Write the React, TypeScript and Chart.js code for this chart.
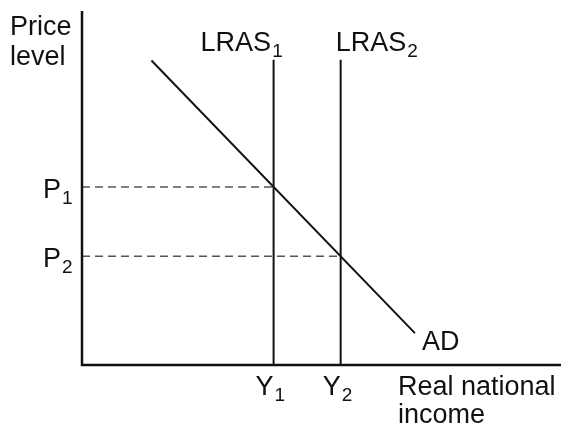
import React, { useEffect, useRef } from "react";
import { Chart, registerables } from "chart.js";

Chart.register(...registerables);

// Data (arbitrary units: real national income on x, price level on y)
const lrasNames = ["LRAS", "LRAS"];
const lrasSubs = ["1", "2"];
const lrasX = [4.0, 5.4];
const lrasTop = 8.62;
const adX = [1.45, 6.95];
const adY = [8.6, 0.9];
const priceNames = ["P", "P"];
const priceSubs = ["1", "2"];
const priceLevels = [5.03, 3.07];
const incomeNames = ["Y", "Y"];
const incomeSubs = ["1", "2"];
const incomeLevels = [4.0, 5.4];
const xTitle = ["Real national", "income"];
const yTitle = ["Price", "level"];
const adLabel = "AD";

const FONT = "Liberation Sans, Arial, sans-serif";
const MAIN = 27;
const SUB = 19;

function drawSub(ctx: CanvasRenderingContext2D, main: string, sub: string, x: number, y: number) {
  ctx.font = `${MAIN}px ${FONT}`;
  ctx.textAlign = "left";
  ctx.textBaseline = "alphabetic";
  ctx.fillText(main, x, y);
  const w = ctx.measureText(main).width;
  ctx.font = `${SUB}px ${FONT}`;
  ctx.fillText(sub, x + w + 1, y + 6);
  ctx.font = `${MAIN}px ${FONT}`;
  return w + 1 + ctx.measureText(sub).width;
}

const labelsPlugin = {
  id: "econLabels",
  afterDatasetsDraw(chart: any) {
    const ctx: CanvasRenderingContext2D = chart.ctx;
    const xs = chart.scales.x;
    const ys = chart.scales.y;
    const ca = chart.chartArea;
    ctx.save();
    // axes
    ctx.strokeStyle = "#111";
    ctx.lineWidth = 2.5;
    ctx.beginPath();
    const x0 = xs.getPixelForValue(0);
    const y0 = ys.getPixelForValue(0);
    ctx.moveTo(x0, ca.top);
    ctx.lineTo(x0, y0);
    ctx.lineTo(ca.right, y0);
    ctx.stroke();

    ctx.fillStyle = "#111";
    ctx.font = `${MAIN}px ${FONT}`;
    ctx.textAlign = "left";
    ctx.textBaseline = "alphabetic";
    // y title
    ctx.fillText(yTitle[0], x0 - 72, ca.top + 24);
    ctx.fillText(yTitle[1], x0 - 72, ca.top + 54);
    // x title
    ctx.fillText(xTitle[0], x0 + 316, y0 + 30);
    ctx.fillText(xTitle[1], x0 + 316, y0 + 58);
    // LRAS labels
    const lrasOffsets = [-73, -5];
    lrasX.forEach((v, i) => {
      const px = xs.getPixelForValue(v);
      const py = ys.getPixelForValue(lrasTop);
      drawSub(ctx, lrasNames[i], lrasSubs[i], px + lrasOffsets[i], py - 9);
    });
    // price labels
    priceLevels.forEach((v, i) => {
      const py = ys.getPixelForValue(v);
      drawSub(ctx, priceNames[i], priceSubs[i], x0 - 39, py + 11);
    });
    // income labels
    incomeLevels.forEach((v, i) => {
      const px = xs.getPixelForValue(v);
      drawSub(ctx, incomeNames[i], incomeSubs[i], px - 18, y0 + 30);
    });
    // AD label
    ctx.font = `${MAIN}px ${FONT}`;
    const ex = xs.getPixelForValue(adX[1]);
    const ey = ys.getPixelForValue(adY[1]);
    ctx.fillText(adLabel, ex + 7, ey + 17);
    ctx.restore();
  },
};

export default function App() {
  const ref = useRef<HTMLCanvasElement | null>(null);
  useEffect(() => {
    document.body.style.margin = "0";
    const canvas = ref.current;
    if (!canvas) return;
    const datasets: any[] = [];
    priceLevels.forEach((p, i) => {
      datasets.push({
        data: [
          { x: 0, y: p },
          { x: incomeLevels[i], y: p },
        ],
        borderColor: "#555",
        borderWidth: 1.5,
        borderDash: [8, 5],
        pointRadius: 0,
        showLine: true,
      });
    });
    lrasX.forEach((v) => {
      datasets.push({
        data: [
          { x: v, y: 0 },
          { x: v, y: lrasTop },
        ],
        borderColor: "#111",
        borderWidth: 2,
        pointRadius: 0,
        showLine: true,
      });
    });
    datasets.push({
      data: adX.map((x, i) => ({ x, y: adY[i] })),
      borderColor: "#111",
      borderWidth: 2,
      pointRadius: 0,
      showLine: true,
    });
    const chart = new Chart(canvas, {
      type: "scatter",
      data: { datasets },
      options: {
        responsive: false,
        animation: false,
        devicePixelRatio: 1,
        layout: { padding: { left: 82, right: 2, top: 11, bottom: 61 } },
        plugins: { legend: { display: false }, tooltip: { enabled: false } },
        scales: {
          x: { type: "linear", min: 0, max: 10, display: false },
          y: { type: "linear", min: 0, max: 10, display: false },
        },
      },
      plugins: [labelsPlugin],
    });
    return () => chart.destroy();
  }, []);
  return <canvas ref={ref} width={563} height={426} style={{ display: "block" }} />;
}
